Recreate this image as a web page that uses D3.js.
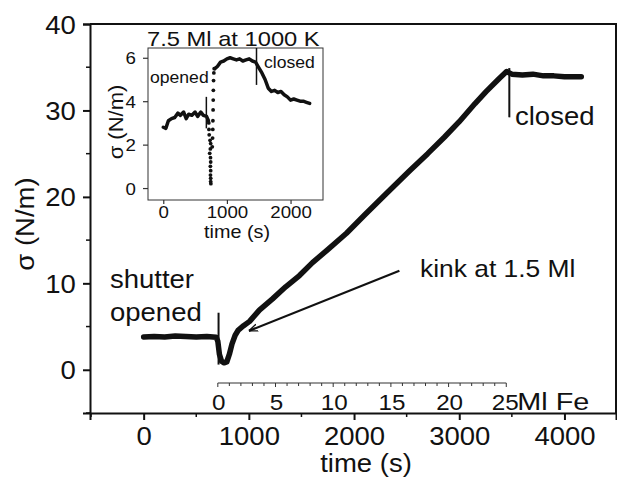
<!DOCTYPE html>
<html>
<head>
<meta charset="utf-8">
<script src="https://cdn.jsdelivr.net/npm/d3@7"></script>
<style>
  body { margin: 0; background: #fff; }
  svg { display: block; font-family: "Liberation Sans", Arial, sans-serif; }
</style>
</head>
<body>
<div id="chart"></div>
<script>
// main trace: surface stress vs time
const mainTime  = [0, 100, 200, 300, 400, 500, 600, 690, 705, 720, 740, 765, 790, 815, 840, 870, 900, 950, 1007, 1100, 1225, 1350, 1481, 1605, 1750, 1928, 2100, 2300, 2526, 2700, 2858, 3000, 3150, 3257, 3380, 3450, 3500, 3600, 3700, 3800, 3900, 4000, 4100, 4160];
const mainSigma = [3.8, 3.85, 3.8, 3.9, 3.85, 3.8, 3.85, 3.75, 3.3, 1.8, 1.0, 0.8, 0.9, 1.8, 3.0, 4.0, 4.6, 5.1, 5.6, 6.9, 8.2, 9.6, 10.9, 12.4, 13.9, 15.8, 17.9, 20.3, 23.0, 25.0, 26.9, 28.7, 30.8, 32.2, 33.7, 34.5, 34.2, 34.1, 34.2, 34.0, 34.0, 33.9, 33.9, 33.9];

// inset trace (7.5 Ml at 1000 K)
const insetTimeA  = [0, 40, 80, 130, 180, 230, 270, 320, 360, 400, 450, 500, 540, 590, 630, 680, 710];
const insetSigmaA = [2.8, 2.75, 3.1, 3.2, 3.25, 3.45, 3.35, 3.5, 3.2, 3.4, 3.35, 3.5, 3.3, 3.5, 3.35, 3.3, 3.1];
const insetDotTime  = [715, 718, 722, 735, 745, 740, 730, 742, 745, 740, 745, 742, 745, 745, 748, 770, 775, 778, 780, 783, 785, 787, 790, 795, 800];
const insetDotSigma = [3.0, 2.7, 2.45, 2.2, 2.05, 1.8, 1.6, 1.4, 1.2, 1.0, 0.8, 0.6, 0.45, 0.3, 0.2, 1.9, 2.3, 2.7, 3.1, 3.6, 4.05, 4.5, 4.95, 5.3, 5.5];
const insetTimeB  = [810, 850, 900, 950, 1000, 1050, 1100, 1150, 1200, 1250, 1300, 1350, 1400, 1450, 1500, 1550, 1600, 1650, 1700, 1750, 1800, 1850, 1900, 1950, 2000, 2050, 2100, 2150, 2200, 2250, 2300];
const insetSigmaB = [5.5, 5.6, 5.8, 5.85, 5.95, 6.0, 5.95, 5.9, 5.95, 5.85, 5.9, 5.95, 5.85, 5.8, 5.55, 5.3, 5.0, 4.6, 4.45, 4.5, 4.4, 4.45, 4.3, 4.2, 4.05, 4.1, 4.05, 4.0, 4.0, 3.95, 3.9];

const xTicks = [0, 1000, 2000, 3000, 4000];
const yTicks = [0, 10, 20, 30, 40];
const mlTicks = [0, 5, 10, 15, 20, 25];
const insetXTicks = [0, 1000, 2000];
const insetYTicks = [0, 2, 4, 6];

const W = 617, H = 483;
const SX = 1.1; // glyphs in the scan are a bit wide

const svg = d3.select("#chart").append("svg")
    .attr("width", W)
    .attr("height", H);

const x = d3.scaleLinear().domain([-510, 4490]).range([90, 616]);
const y = d3.scaleLinear().domain([-5, 40]).range([413, 24]);
const ml = d3.scaleLinear().domain([0, 25]).range([x(705), x(3447)]);

function label(txt, px, py, size, anchor, sx) {
    return svg.append("text")
        .attr("transform", `translate(${px},${py}) scale(${sx || SX},1)`)
        .attr("text-anchor", anchor || "start")
        .style("font-size", size + "px")
        .attr("fill", "#111")
        .text(txt);
}

// frame (top + right)
svg.append("path")
    .attr("d", `M${x.range()[0]},${y.range()[1]} H${x.range()[1]} V${y.range()[0]}`)
    .attr("fill", "none").attr("stroke", "#111").attr("stroke-width", 2);

// axes
const xAxis = svg.append("g")
    .attr("transform", `translate(0,${y.range()[0]})`)
    .call(d3.axisBottom(x).tickValues(xTicks).tickSize(7).tickPadding(7).tickFormat(d3.format("d")));
const yAxis = svg.append("g")
    .attr("transform", `translate(${x.range()[0]},0)`)
    .call(d3.axisLeft(y).tickValues(yTicks).tickSize(7).tickPadding(6));

[xAxis, yAxis].forEach(g => {
    g.select(".domain").attr("stroke", "#111").attr("stroke-width", 2);
    g.selectAll(".tick line").attr("stroke", "#111").attr("stroke-width", 2);
    g.selectAll(".tick text")
        .style("font-size", "25px")
        .attr("fill", "#111")
        .attr("font-family", "Liberation Sans, Arial, sans-serif")
        .attr("transform", `scale(${SX},1)`);
});
yAxis.selectAll(".tick text").attr("dy", "0.36em");

// minor ticks
svg.append("g").selectAll("line")
    .data(d3.range(-500, 4501, 500).filter(d => d % 1000 !== 0))
    .join("line")
    .attr("x1", d => x(d)).attr("x2", d => x(d))
    .attr("y1", y.range()[0]).attr("y2", y.range()[0] + 4)
    .attr("stroke", "#111").attr("stroke-width", 1.5);
svg.append("g").selectAll("line")
    .data([-5, 5, 15, 25, 35])
    .join("line")
    .attr("x1", x.range()[0] - 4).attr("x2", x.range()[0])
    .attr("y1", d => y(d)).attr("y2", d => y(d))
    .attr("stroke", "#111").attr("stroke-width", 1.5);

// secondary monolayer axis
const mlY = 383;
svg.append("line")
    .attr("x1", ml(0)).attr("x2", ml(25))
    .attr("y1", mlY).attr("y2", mlY)
    .attr("stroke", "#333").attr("stroke-width", 1.2);
svg.append("g").selectAll("line")
    .data(d3.range(0, 26, 1))
    .join("line")
    .attr("x1", d => ml(d)).attr("x2", d => ml(d))
    .attr("y1", mlY).attr("y2", d => mlY + (d % 5 === 0 ? 4 : 3))
    .attr("stroke", "#333").attr("stroke-width", 1);
mlTicks.forEach(d => label(String(d), ml(d) - (d === 25 ? 1 : -1), 410, 22, "middle"));
label("Ml Fe", ml(25) + 11, 410, 24, "start", 1.2);

// axis titles
label("time (s)", 366, 472, 25, "middle");
svg.append("text")
    .attr("transform", "translate(34,224) rotate(-90) scale(1.1,1)")
    .attr("text-anchor", "middle")
    .style("font-size", "25px")
    .attr("fill", "#111")
    .text("σ (N/m)");

// main curve
const mainLine = d3.line().x(d => x(d[0])).y(d => y(d[1])).curve(d3.curveLinear);
svg.append("path")
    .datum(d3.zip(mainTime, mainSigma))
    .attr("d", mainLine)
    .attr("fill", "none")
    .attr("stroke", "#111")
    .attr("stroke-width", 5.5)
    .attr("stroke-linejoin", "round")
    .attr("stroke-linecap", "round");

// shutter markers
svg.append("line")
    .attr("x1", x(712)).attr("x2", x(712))
    .attr("y1", y(6.6)).attr("y2", y(0.6))
    .attr("stroke", "#111").attr("stroke-width", 2);
svg.append("line")
    .attr("x1", x(3476)).attr("x2", x(3476))
    .attr("y1", y(34.9)).attr("y2", y(29.2))
    .attr("stroke", "#111").attr("stroke-width", 2);

label("shutter", 110, 288, 25);
label("opened", 110, 321, 25);
label("closed", 515, 125, 25);
label("kink at 1.5 Ml", 420, 277, 24);

// kink arrow
svg.append("defs").append("marker")
    .attr("id", "arrow")
    .attr("viewBox", "0 -5 10 10")
    .attr("refX", 10).attr("refY", 0)
    .attr("markerWidth", 9).attr("markerHeight", 9)
    .attr("markerUnits", "userSpaceOnUse")
    .attr("orient", "auto")
    .append("path")
    .attr("d", "M0,-4L10,0L0,4")
    .attr("fill", "none")
    .attr("stroke", "#111")
    .attr("stroke-width", 1.5);
svg.append("line")
    .attr("x1", x(2431)).attr("y1", y(11.45))
    .attr("x2", x(1000)).attr("y2", y(4.5))
    .attr("stroke", "#111").attr("stroke-width", 2.2)
    .attr("marker-end", "url(#arrow)");

// ---------- inset ----------
const ix = d3.scaleLinear().domain([-240, 2510]).range([148, 323]);
const iy = d3.scaleLinear().domain([-0.55, 6.45]).range([200, 48]);

const inset = svg.append("g");
inset.append("rect")
    .attr("x", 148).attr("y", 48)
    .attr("width", 323 - 148).attr("height", 200 - 48)
    .attr("fill", "#fff")
    .attr("stroke", "#333").attr("stroke-width", 1);

const ixAxis = inset.append("g")
    .attr("transform", "translate(0,200)")
    .call(d3.axisBottom(ix).tickValues(insetXTicks).tickSize(4).tickPadding(2).tickFormat(d3.format("d")));
const iyAxis = inset.append("g")
    .attr("transform", "translate(148,0)")
    .call(d3.axisLeft(iy).tickValues(insetYTicks).tickSize(5).tickPadding(6).tickFormat(d3.format("d")));
[ixAxis, iyAxis].forEach(g => {
    g.select(".domain").remove();
    g.selectAll(".tick line").attr("stroke", "#333").attr("stroke-width", 1.2);
    g.selectAll(".tick text")
        .style("font-size", "17px")
        .attr("fill", "#111")
        .attr("font-family", "Liberation Sans, Arial, sans-serif")
        .attr("transform", `scale(${SX},1)`);
});
iyAxis.selectAll(".tick text").attr("dy", "0.36em");

const insetLine = d3.line().x(d => ix(d[0])).y(d => iy(d[1]));
[[insetTimeA, insetSigmaA], [insetTimeB, insetSigmaB]].forEach(([t, s]) => {
    inset.append("path")
        .datum(d3.zip(t, s))
        .attr("d", insetLine)
        .attr("fill", "none")
        .attr("stroke", "#111")
        .attr("stroke-width", 3.5)
        .attr("stroke-linejoin", "round")
        .attr("stroke-linecap", "round");
});
inset.append("g").selectAll("circle")
    .data(d3.zip(insetDotTime, insetDotSigma))
    .join("circle")
    .attr("cx", d => ix(d[0]))
    .attr("cy", d => iy(d[1]))
    .attr("r", 1.9)
    .attr("fill", "#111");

// inset markers
inset.append("line")
    .attr("x1", ix(677)).attr("x2", ix(677))
    .attr("y1", iy(4.2)).attr("y2", iy(2.75))
    .attr("stroke", "#111").attr("stroke-width", 1.5);
inset.append("line")
    .attr("x1", ix(1465)).attr("x2", ix(1465))
    .attr("y1", iy(6.45)).attr("y2", iy(4.75))
    .attr("stroke", "#111").attr("stroke-width", 1.5);

label("7.5 Ml at 1000 K", 147, 46, 21, "start", 1.13);
label("opened", 150, 83, 16);
label("closed", 264, 68, 16);
label("time (s)", 237, 238, 18, "middle");
svg.append("text")
    .attr("transform", "translate(123,122) rotate(-90) scale(1.1,1)")
    .attr("text-anchor", "middle")
    .style("font-size", "20px")
    .attr("fill", "#111")
    .text("σ (N/m)");
</script>
</body>
</html>
